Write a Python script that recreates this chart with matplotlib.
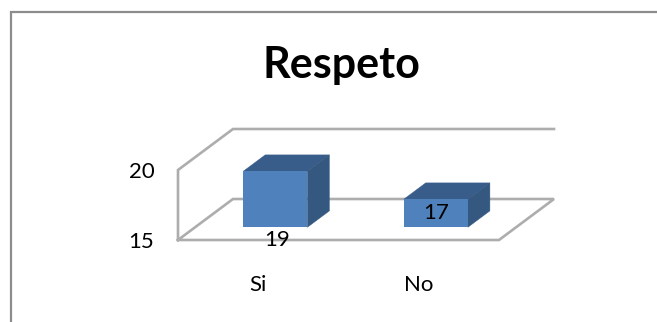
import matplotlib
matplotlib.use('Agg')
import matplotlib.pyplot as plt
from matplotlib.lines import Line2D
from matplotlib.patches import Polygon

categories = ['Si', 'No']
values = [19, 17]
y_ticks = [15, 20]
title = 'Respeto'

plt.rcParams['font.family'] = ['Lato', 'DejaVu Sans']

W, H = 657, 322
fig = plt.figure(figsize=(W / 100, H / 100), dpi=100, facecolor='white')
ax = fig.add_axes([178 / W, (H - 240) / H, 321 / W, 70 / H])
ax.set_xlim(-0.5, 1.5)
ax.set_ylim(15, 20)
ax.patch.set_visible(False)
for s in ax.spines.values():
    s.set_visible(False)

# depth of the fake 3d box, in data units
depth_x = 55 * 2 / 321
depth_y = 41 * 5 / 70
wall = '#adadad'
front = '#4f81bd'
top = '#385d8a'
side = '#34587f'
bar_w = 0.4
d0, d1 = 0.31, 0.71


def walls(xs, ys):
    ax.add_line(Line2D(xs, ys, color=wall, lw=1.9, clip_on=False, solid_joinstyle='miter', zorder=1))


x0, x1 = ax.get_xlim()
y0, y1 = ax.get_ylim()
walls([x0, x1, x1 + depth_x, x0 + depth_x, x0], [y0, y0, y0 + depth_y, y0 + depth_y, y0])
walls([x0, x0, x0 + depth_x, x1 + depth_x], [y0, y1, y1 + depth_y, y1 + depth_y])

for i, v in enumerate(values):
    l = i - bar_w / 2 + d0 * depth_x
    r = l + bar_w
    b = y0 + d0 * depth_y
    t = v + d0 * depth_y
    dx = (d1 - d0) * depth_x
    dy = (d1 - d0) * depth_y
    ax.bar(i + d0 * depth_x, v - y0, bar_w, bottom=b, color=front, clip_on=False, zorder=3)
    ax.add_patch(Polygon([(l, t), (r, t), (r + dx, t + dy), (l + dx, t + dy)], fc=top, ec=top, lw=0.3, clip_on=False, zorder=2.9))
    ax.add_patch(Polygon([(r, b), (r + dx, b + dy), (r + dx, t + dy), (r, t)], fc=side, ec=side, lw=0.3, clip_on=False, zorder=2.9))

# data labels: the first hangs on the bar foot, the second sits inside
ax.annotate(str(values[0]), (0 + d0 * depth_x, y0 + d0 * depth_y), xytext=(1.5, -9), textcoords='offset points',
            ha='center', va='center', fontsize=16, zorder=5, annotation_clip=False)
ax.annotate(str(values[1]), (1 + d0 * depth_x, (y0 + values[1]) / 2 + d0 * depth_y), xytext=(0.5, 0), textcoords='offset points',
            ha='center', va='center', fontsize=16, zorder=5, annotation_clip=False)

ax.set_xticks(range(len(categories)), categories)
ax.set_yticks(y_ticks)
ax.tick_params(axis='x', length=0, pad=25.5, labelsize=16)
ax.tick_params(axis='y', length=0, pad=17, labelsize=16)

fig.text(341 / W, 1 - 78 / H, title, ha='center', va='baseline', fontsize=31, fontweight='bold')

# outer frame, cropped on the right and bottom
frame = '#8c8c8c'
fig.add_artist(Line2D([11 / W, 11 / W, 1], [0, 1 - 12 / H, 1 - 12 / H], color=frame, lw=1.6, solid_joinstyle='miter'))

fig.savefig('out.png', dpi=100)
